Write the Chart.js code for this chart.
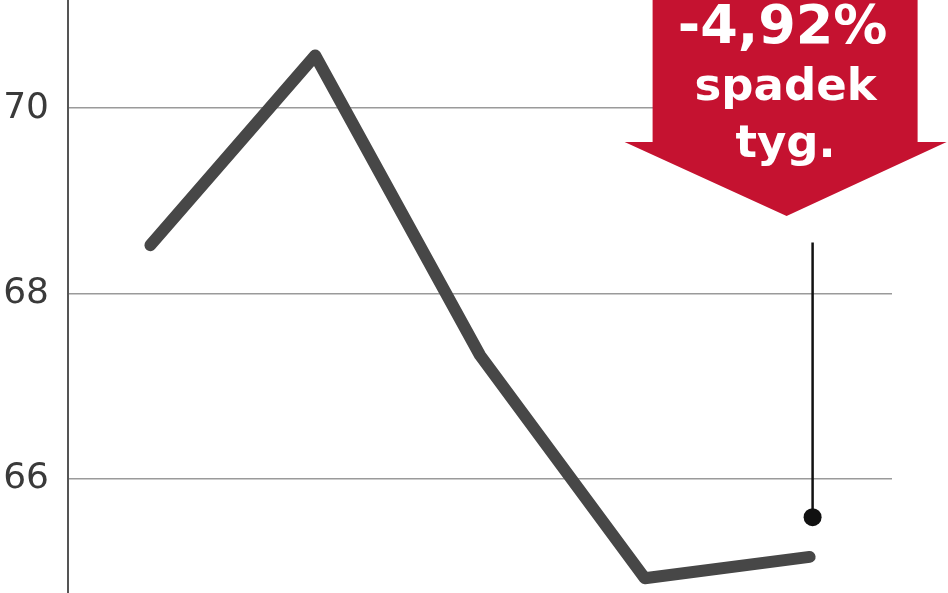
<!DOCTYPE html>
<html><head><meta charset="utf-8">
<script src="https://cdn.jsdelivr.net/npm/chart.js@4.4.1/dist/chart.umd.min.js"></script>
<style>html,body{margin:0;padding:0;background:#fff;overflow:hidden}#wrap{width:948px;height:593px}</style>
</head><body><div id="wrap"><canvas id="c" width="948" height="593"></canvas></div>
<script>
const categories = ['pon.', 'wt.', 'śr.', 'czw.', 'pt.'];
const values = [68.52, 70.57, 67.33, 64.92, 65.15];
const yTicks = [66, 68, 70];
const yRange = [64.76, 71.17];
const calloutLines = ['-4,92%', 'spadek', 'tyg.'];
const leaderValues = [68.55, 65.58];

const calloutPlugin = {
  id: 'callout',
  afterDatasetsDraw(chart) {
    const {ctx, chartArea, scales} = chart;
    const meta = chart.getDatasetMeta(0);
    const last = meta.data[meta.data.length - 1];
    const lx = last.x + 3;
    const yTop = scales.y.getPixelForValue(leaderValues[0]);
    const yDot = scales.y.getPixelForValue(leaderValues[1]);
    ctx.save();
    ctx.strokeStyle = '#111';
    ctx.lineWidth = 2.5;
    ctx.beginPath(); ctx.moveTo(lx, yTop); ctx.lineTo(lx, yDot); ctx.stroke();
    ctx.fillStyle = '#111';
    ctx.beginPath(); ctx.arc(lx, yDot, 9, 0, Math.PI * 2); ctx.fill();

    const cx = last.x - 24;
    const top = chartArea.top - 5;
    const shoulder = top + 147;
    const tip = top + 221;
    ctx.fillStyle = '#c51230';
    ctx.beginPath();
    ctx.moveTo(cx - 133, top);
    ctx.lineTo(cx + 132, top);
    ctx.lineTo(cx + 132, shoulder);
    ctx.lineTo(cx + 161, shoulder);
    ctx.lineTo(cx + 1, tip);
    ctx.lineTo(cx - 161, shoulder);
    ctx.lineTo(cx - 133, shoulder);
    ctx.closePath();
    ctx.fill();

    ctx.fillStyle = '#ffffff';
    ctx.textAlign = 'center';
    ctx.textBaseline = 'alphabetic';
    ctx.font = 'bold 54px "DejaVu Sans"';
    ctx.fillText(calloutLines[0], cx - 3, top + 48);
    ctx.font = 'bold 45px "DejaVu Sans"';
    ctx.fillText(calloutLines[1], cx, top + 105);
    ctx.fillText(calloutLines[2], cx, top + 162);
    ctx.restore();
  }
};

new Chart(document.getElementById('c'), {
  type: 'line',
  data: {
    labels: categories,
    datasets: [{
      data: values,
      borderColor: '#474747',
      borderWidth: 12,
      borderCapStyle: 'round',
      borderJoinStyle: 'round',
      pointRadius: 0,
      tension: 0,
      fill: false,
      clip: false
    }]
  },
  options: {
    responsive: false,
    animation: false,
    devicePixelRatio: 1,
    layout: { padding: { left: 0, right: 56, top: 0, bottom: 0 } },
    plugins: { legend: { display: false }, tooltip: { enabled: false } },
    scales: {
      x: { type: 'category', offset: true, display: false },
      y: {
        min: yRange[0],
        max: yRange[1],
        afterFit(scale) { scale.width = 68; scale.paddingTop = 0; scale.paddingBottom = 0; },
        afterBuildTicks(scale) { scale.ticks = yTicks.map(v => ({ value: v })); },
        border: { display: true, color: '#555', width: 2 },
        grid: { color: '#9a9a9a', lineWidth: 1.5, drawTicks: false },
        ticks: {
          padding: 19,
          color: '#3a3a3a',
          font: { family: '"DejaVu Sans"', size: 36, weight: 'normal' }
        }
      }
    }
  },
  plugins: [calloutPlugin]
});
</script>
</body></html>
